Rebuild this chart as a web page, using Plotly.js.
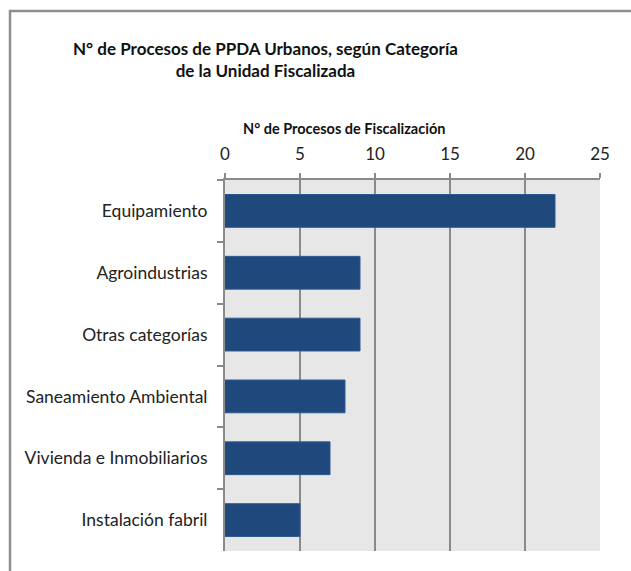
<!DOCTYPE html>
<html>
<head>
<meta charset="utf-8">
<script src="https://cdn.plot.ly/plotly-3.0.1.min.js"></script>
<style>html,body{margin:0;padding:0;background:#fff;}#chart{width:631px;height:571px;}</style>
</head>
<body>
<div id="chart"></div>
<script>
const categories = ["Equipamiento", "Agroindustrias", "Otras categorías", "Saneamiento Ambiental", "Vivienda e Inmobiliarios", "Instalación fabril"];
const values = [22, 9, 9, 8, 7, 5];
const xTicks = [0, 5, 10, 15, 20, 25];
const titleLines = ["N° de Procesos de PPDA Urbanos, según Categoría", "de la Unidad Fiscalizada"];
const axisTitleText = "N° de Procesos de Fiscalización";

const L = 225, R = 600, T = 180, B = 551, W = 631, H = 571;
const px = x => (x - L) / (R - L);
const py = y => (B - y) / (B - T);

const font = "Lato, Open Sans, sans-serif";

const trace = {
  type: "bar",
  orientation: "h",
  y: categories,
  x: values,
  width: 0.53,
  marker: {color: "#1f497d", line: {color: "#2c5a92", width: 1}},
  hoverinfo: "x+y"
};

const layout = {
  width: W, height: H,
  margin: {l: L, r: W - R, t: T, b: H - B, pad: 0},
  paper_bgcolor: "#ffffff",
  plot_bgcolor: "#e7e7e7",
  showlegend: false,
  xaxis: {
    side: "top",
    range: [0, 25],
    tickvals: xTicks,
    ticktext: xTicks.map(String),
    showgrid: true, gridcolor: "#8a8a8a", gridwidth: 2,
    zeroline: false,
    showline: true, linecolor: "#8a8a8a", linewidth: 2,
    ticks: "outside", ticklen: 5, tickcolor: "#8a8a8a", tickwidth: 2,
    ticklabelstandoff: 6,
    tickfont: {family: font, size: 17, color: "#222"},
    fixedrange: true
  },
  yaxis: {
    type: "category",
    autorange: "reversed",
    categoryorder: "array", categoryarray: categories,
    showgrid: false, zeroline: false,
    showline: true, linecolor: "#8a8a8a", linewidth: 2,
    ticks: "outside", tickson: "boundaries", ticklen: 6, tickcolor: "#8a8a8a", tickwidth: 2,
    ticklabelstandoff: 12,
    tickfont: {family: font, size: 17.5, color: "#222"},
    fixedrange: true
  },
  annotations: [
    {text: titleLines.map(s => "<b>" + s + "</b>").join("<br>"), xref: "paper", yref: "paper", x: px(265), y: py(60), xanchor: "center", yanchor: "middle",
     showarrow: false, font: {family: font, size: 17, color: "#111"}, align: "center"},
    {text: "<b>" + axisTitleText + "</b>", xref: "paper", yref: "paper", x: px(344), y: py(128), xanchor: "center", yanchor: "middle",
     showarrow: false, font: {family: font, size: 14.5, color: "#111"}}
  ],
  shapes: [
    {type: "rect", xref: "paper", yref: "paper", x0: px(10), y0: py(600), x1: px(660), y1: py(11),
     line: {color: "#8e8e8e", width: 2.5}, fillcolor: "rgba(0,0,0,0)", layer: "below"}
  ]
};

Plotly.newPlot("chart", [trace], layout, {displayModeBar: false, staticPlot: true});
</script>
</body>
</html>
